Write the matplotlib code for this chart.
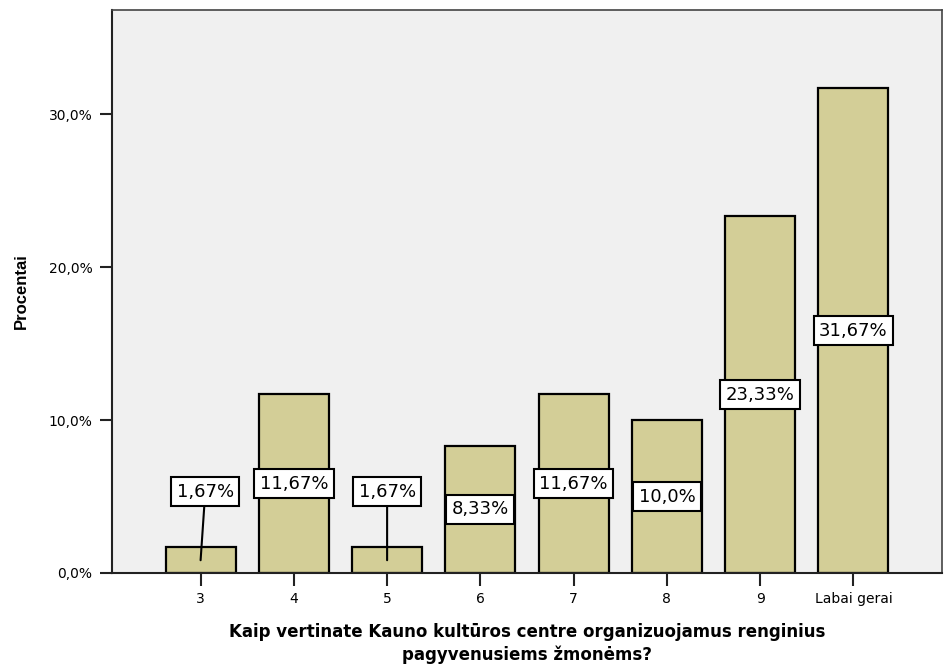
import numpy as np
import matplotlib.pyplot as plt

categories = ['3', '4', '5', '6', '7', '8', '9', 'Labai gerai']
values = [1.67, 11.67, 1.67, 8.33, 11.67, 10.0, 23.33, 31.67]
labels = ['1,67%', '11,67%', '1,67%', '8,33%', '11,67%', '10,0%', '23,33%', '31,67%']
yticks = [0, 10, 20, 30]
yticklabels = ['0,0%', '10,0%', '20,0%', '30,0%']

bar_color = '#d3ce97'
bg_color = '#f0f0f0'

fig = plt.figure(figsize=(9.48, 6.66), dpi=100)
ax = fig.add_axes([112/948, 93/666, 830/948, 563/666], facecolor=bg_color)

x = np.arange(len(categories))
ax.bar(x, values, width=0.75, color=bar_color, edgecolor='black', linewidth=1.6, zorder=2)

box = dict(boxstyle='square,pad=0.3', fc='white', ec='black', lw=1.5)
# value labels, small bars get a box above with a leader line
for i, (v, lab) in enumerate(zip(values, labels)):
    if v < 5:
        dx = 0.05 if i == 0 else 0.0
        ax.annotate(lab, xy=(i, v / 2), xytext=(i + dx, 5.3),
                    ha='center', va='center', fontsize=13, family='DejaVu Sans',
                    bbox=box,
                    arrowprops=dict(arrowstyle='-', color='black', lw=1.5,
                                    shrinkA=0, shrinkB=0), zorder=3)
    else:
        ax.text(i, v / 2, lab, ha='center', va='center', fontsize=13, family='DejaVu Sans',
                bbox=box, zorder=3)

ax.set_xlim(-0.95, 7.95)
ax.set_ylim(0, 36.8)
ax.set_xticks(x)
ax.set_xticklabels(categories, fontsize=10, family='DejaVu Sans')
ax.set_yticks(yticks)
ax.set_yticklabels(yticklabels, fontsize=10, family='DejaVu Sans')
ax.tick_params(axis='both', direction='out', length=9, width=1.5, color='#222222', pad=5)

for s in ['left', 'bottom']:
    ax.spines[s].set_color('#222222')
    ax.spines[s].set_linewidth(1.5)
for s in ['top', 'right']:
    ax.spines[s].set_color('#444444')
    ax.spines[s].set_linewidth(1.2)

ax.set_ylabel('Procentai', fontsize=12, fontweight='bold', family='Liberation Sans', labelpad=14)
ax.set_xlabel('Kaip vertinate Kauno kultūros centre organizuojamus renginius\npagyvenusiems žmonėms?',
              fontsize=12, fontweight='bold', family='DejaVu Sans', labelpad=12,
              linespacing=1.3)

fig.savefig('out.png', dpi=100)
